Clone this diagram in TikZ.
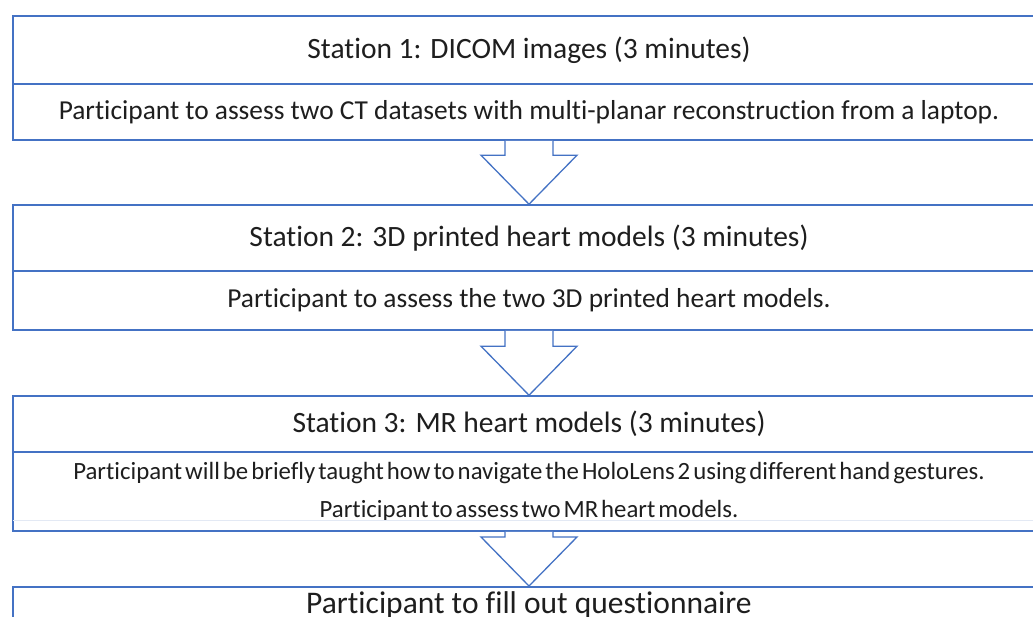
\documentclass[tikz,border=0pt]{standalone}
\usepackage{fontspec}
\setmainfont{Carlito}[Ligatures=NoCommon]
\usetikzlibrary{positioning, calc}

\definecolor{boxblue}{HTML}{4472C4}
\definecolor{paleblue}{HTML}{E3E9F4}
\definecolor{inktext}{HTML}{1E1E1E}

\newcommand{\tightspaces}{\spaceskip=0.12em\relax}

\tikzset{
  stagebox/.style={draw=boxblue, line width=1.6pt, rectangle, minimum width=1032pt,
    inner sep=0pt, text=inktext, align=center},
  titlebox/.style={stagebox, font=\fontsize{29.5}{33}\selectfont},
  taskbox/.style={stagebox, font=\fontsize{27.4}{31}\selectfont},
  flowarrow/.style={draw=boxblue, line width=1.3pt, fill=white, line join=miter}
}

% block arrow from the bottom of one box to the top of the next
\newcommand{\stagearrow}[2]{%
  \draw[flowarrow] ($(#1.south)+(-24,0)$) -- ($(#2.north)+(-24,-49)$)
    -- ($(#2.north)+(-48,-49)$) -- (#2.north) -- ($(#2.north)+(48,-49)$)
    -- ($(#2.north)+(24,-49)$) -- ($(#1.south)+(24,0)$);}

\begin{document}
\begin{tikzpicture}[x=1pt,y=-1pt]
  \useasboundingbox[fill=white] (0,0) rectangle (1033,616);
  \clip (0,0) rectangle (1033,616);

  % station 1
  \node[titlebox, minimum height=68pt] (t1) at (529,50) {Station 1: DICOM images (3 minutes)};
  \node[taskbox, minimum height=56pt] (b1) at (529,112) {Participant to assess two CT datasets with multi-planar reconstruction from a laptop.};
  % station 2
  \node[titlebox, minimum height=66pt] (t2) at (529,238) {Station 2: 3D printed heart models (3 minutes)};
  \node[taskbox, minimum height=59pt] (b2) at (529,300.5) {Participant to assess the two 3D printed heart models.};
  % station 3
  \node[titlebox, minimum height=56pt] (t3) at (529,424) {Station 3: MR heart models (3 minutes)};
  \node[stagebox, minimum height=79pt, font=\fontsize{24.8}{38}\selectfont\tightspaces]
    (b3) at (529,491.5) {Participant will be briefly taught how to navigate the HoloLens 2 using different hand gestures.\\Participant to assess two MR heart models.};
  \draw[paleblue, line width=1pt] ($(b3.south west)+(1,-11)$) -- ($(b3.south east)+(-1,-11)$);
  % questionnaire
  \node[stagebox, anchor=north, text height=21pt, text depth=0pt,
    inner ysep=6pt, font=\fontsize{31.5}{34}\selectfont] (t4) at (529,586)
    {Participant to fill out questionnaire};

  \stagearrow{b1}{t2}
  \stagearrow{b2}{t3}
  \stagearrow{b3}{t4}
\end{tikzpicture}
\end{document}
